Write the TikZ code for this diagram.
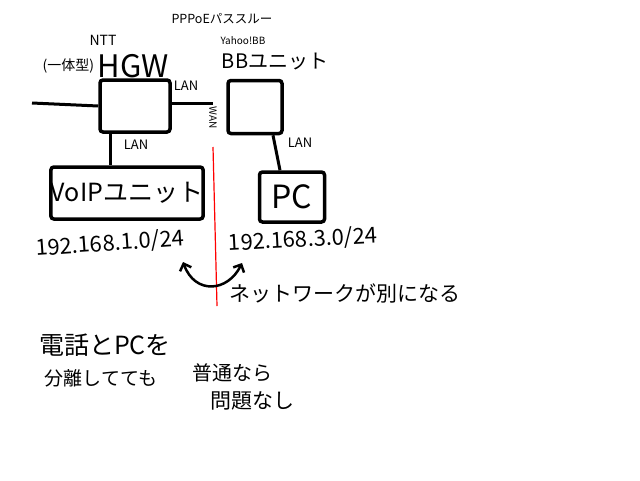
\documentclass[tikz,border=0pt]{standalone}
\usepackage{fontspec}
\setmainfont{Noto Sans CJK JP}
\usetikzlibrary{positioning,arrows.meta}

\newcommand{\fsz}[1]{\fontsize{#1}{#1}\selectfont}

\begin{document}
\begin{tikzpicture}[x=1pt, y=-1pt,
    box/.style={rectangle, draw, line width=3.5pt, rounded corners=3pt, inner sep=0pt},
    link/.style={line width=3pt},
    lbl/.style={font=\fsz{13}, inner sep=1pt}]
    \useasboundingbox (0,0) rectangle (640,480);

    % Devices
    \node[box, minimum width=70pt, minimum height=52pt] (hgw) at (135,106) {};
    \node[box, minimum width=54pt, minimum height=53pt] (bb) at (255,107) {};
    \node[box, minimum width=143pt, minimum height=52pt, font=\fsz{25}] (voip) at (127,193) {VoIPユニット};
    \node[box, minimum width=65pt, minimum height=50pt, font=\fsz{32}] (pc) at (292,197) {PC};

    % Device names
    \node[font=\fsz{31}, inner sep=0pt] (hgwname) at (133,66) {HGW};
    \node[font=\fsz{14}, inner sep=0pt, left=3pt of hgwname] (hgwtype) {(一体型)};
    \node[font=\fsz{14}] (ntt) at (103,40) {NTT};
    \node[font=\fsz{20}, inner sep=0pt] (bbname) at (275,62) {BBユニット};
    \node[font=\fsz{10}] (yahoo) at (243,41) {Yahoo!BB};
    \node[font=\fsz{12.5}] (pppoe) at (222,19) {PPPoEパススルー};

    % Connections
    \coordinate (inet) at (32,103);
    \coordinate (wanend) at (213,103);
    \draw[link] (inet) -- (hgw.west);
    \draw[link] (hgw.east |- wanend) -- (wanend);
    \draw[link] ([xshift=-25pt]hgw.south) -- ([xshift=-25pt]hgw.south |- voip.north);
    \draw[link] ([xshift=18pt]bb.south) -- ([xshift=-12pt]pc.north);

    % Port labels
    \node[lbl] (lan1) at (186,86) {LAN};
    \node[lbl] (lan2) at (136,145) {LAN};
    \node[lbl] (lan3) at (300,143) {LAN};
    \node[lbl, font=\fsz{10}, rotate=-90] (wan) at (213,118) {WAN};

    % Subnets
    \node[font=\fsz{22}, rotate=4] (net1) at (110,244) {192.168.1.0/24};
    \node[font=\fsz{22}, rotate=3] (net2) at (303,240) {192.168.3.0/24};

    % Split
    \coordinate (splittop) at (213,147);
    \coordinate (splitbot) at (217,306);
    \draw[red, line width=1.2pt] (splittop) -- (splitbot);
    \coordinate (arrl) at (183,262);
    \coordinate (arrr) at (242,263);
    \draw[link, line width=2.5pt, {Straight Barb[length=6pt,width=12pt]}-{Straight Barb[length=6pt,width=12pt]}]
        (arrl) .. controls (195,295) and (228,292) .. (arrr);
    \node[font=\fsz{21}] (sepnote) at (345,293) {ネットワークが別になる};

    % Notes
    \node[font=\fsz{25}] (note1) at (105,345) {電話とPCを};
    \node[font=\fsz{19}] (note2) at (101,378) {分離してても};
    \node[font=\fsz{20}] (note3) at (232,373) {普通なら};
    \node[font=\fsz{21}] (note4) at (252,401) {問題なし};
\end{tikzpicture}
\end{document}
